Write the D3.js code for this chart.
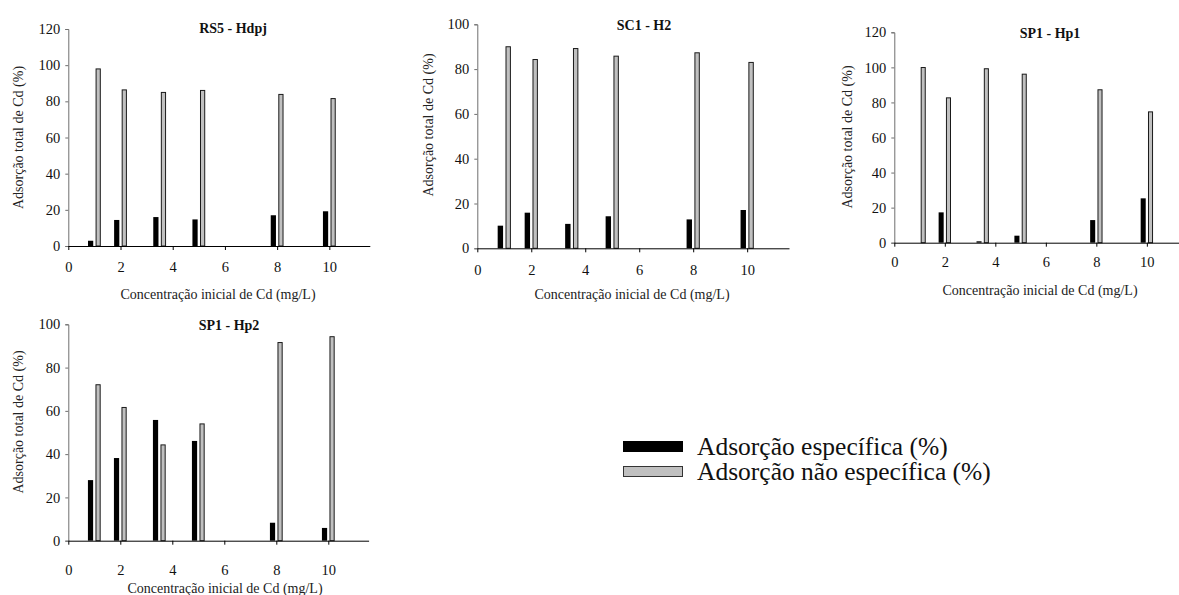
<!DOCTYPE html>
<html>
<head>
<meta charset="utf-8">
<script src="https://cdn.jsdelivr.net/npm/d3@7"></script>
<style>
  html, body { margin: 0; padding: 0; background: #fff; }
  svg { display: block; font-family: "Liberation Serif", "Times New Roman", serif; }
</style>
</head>
<body>
<svg id="chart" width="1179" height="595"></svg>
<script>
// Initial Cd concentrations (mg/L) shared by all soils
const concentrations = [1, 2, 3.5, 5, 8, 10];
const xTicks = [0, 2, 4, 6, 8, 10];

// Specific / non-specific Cd adsorption (%) per soil horizon
const rs5Specific    = [2.9, 14.4, 16.0, 14.7, 17.0, 19.2];
const rs5NonSpecific = [98.2, 86.6, 85.2, 86.3, 84.1, 81.8];

const sc1Specific    = [10.1, 15.9, 10.9, 14.3, 12.9, 17.1];
const sc1NonSpecific = [90.2, 84.5, 89.4, 86.0, 87.5, 83.2];

const hp1Specific    = [0, 17.3, 0.8, 4.0, 12.9, 25.3];
const hp1NonSpecific = [100.2, 82.9, 99.5, 96.4, 87.5, 74.9];

const hp2Specific    = [28.0, 38.2, 55.8, 46.1, 8.3, 5.9];
const hp2NonSpecific = [72.3, 61.8, 44.5, 54.2, 91.8, 94.5];

const titles = ["RS5 - Hdpj", "SC1 - H2", "SP1 - Hp1", "SP1 - Hp2"];
const legendLabels = ["Adsorção específica (%)", "Adsorção não específica (%)"];
const yTitle = "Adsorção total de Cd (%)";
const xTitle = "Concentração inicial de Cd (mg/L)";

const svg = d3.select("#chart");
const serif = "Liberation Serif, Times New Roman, serif";

// Panel layout: plot box, y maximum and label placement
const panels = [
  { title: titles[0], spec: rs5Specific, non: rs5NonSpecific, yMax: 120,
    left: 68.3, right: 369.8, top: 29, bottom: 246,
    titleX: 233, titleY: 28, yLabX: 18, yLabY: 137.5, xLabX: 218, xLabY: 294, tickLabY: 267 },
  { title: titles[1], spec: sc1Specific, non: sc1NonSpecific, yMax: 100,
    left: 477.3, right: 789, top: 24.3, bottom: 248.3,
    titleX: 644, titleY: 25, yLabX: 428, yLabY: 125, xLabX: 632, xLabY: 294, tickLabY: 270 },
  { title: titles[2], spec: hp1Specific, non: hp1NonSpecific, yMax: 120,
    left: 894.3, right: 1186, top: 32.3, bottom: 242.7,
    titleX: 1050, titleY: 33, yLabX: 847, yLabY: 137, xLabX: 1040, xLabY: 290, tickLabY: 262 },
  { title: titles[3], spec: hp2Specific, non: hp2NonSpecific, yMax: 100,
    left: 68.3, right: 368.6, top: 324.3, bottom: 540.7,
    titleX: 229, titleY: 325, yLabX: 18, yLabY: 422, xLabX: 225, xLabY: 588, tickLabY: 570 }
];

const halfGap = 0.045, barW = 0.2;

panels.forEach(p => {
  const x = d3.scaleLinear().domain([0, 11.55]).range([p.left, p.right]);
  const y = d3.scaleLinear().domain([0, p.yMax]).range([p.bottom, p.top]);
  const g = svg.append("g");

  // y axis
  const yAxis = d3.axisLeft(y).ticks(p.yMax / 20).tickSize(3).tickPadding(5);
  const ya = g.append("g").attr("transform", `translate(${p.left},0)`).call(yAxis)
    .attr("font-family", serif);
  ya.select(".domain").attr("stroke", "#6e6e6e");
  ya.selectAll(".tick line").attr("stroke", "#6e6e6e");
  ya.selectAll("text").attr("font-size", 14.5).attr("fill", "#111");

  // bars: specific (black) left of each concentration, non-specific (grey) right
  g.selectAll(".spec").data(concentrations).join("rect")
    .attr("x", d => x(d - halfGap - barW))
    .attr("width", d => x(d - halfGap) - x(d - halfGap - barW))
    .attr("y", (d, i) => y(p.spec[i]))
    .attr("height", (d, i) => y(0) - y(p.spec[i]))
    .attr("fill", "#000");

  g.selectAll(".non").data(concentrations).join("rect")
    .attr("x", d => x(d + halfGap) + 0.5)
    .attr("width", d => x(d + halfGap + barW) - x(d + halfGap) - 1)
    .attr("y", (d, i) => y(p.non[i]) + 0.5)
    .attr("height", (d, i) => y(0) - y(p.non[i]) - 0.5)
    .attr("fill", "#c0c0c0")
    .attr("stroke", "#1a1a1a")
    .attr("stroke-width", 1);

  // x axis
  const xAxis = d3.axisBottom(x).tickValues(xTicks).tickSize(4).tickSizeOuter(0).tickPadding(0);
  const xa = g.append("g").attr("transform", `translate(0,${p.bottom})`).call(xAxis)
    .attr("font-family", serif);
  xa.select(".domain").attr("stroke", "#000");
  xa.selectAll(".tick line").attr("stroke", "#000");
  xa.selectAll("text").attr("font-size", 14.5).attr("fill", "#111")
    .attr("y", p.tickLabY - p.bottom).attr("dy", "0.35em");

  // titles and axis labels
  g.append("text").attr("x", p.titleX).attr("y", p.titleY).attr("dy", "0.35em")
    .attr("text-anchor", "middle").attr("font-weight", "bold").attr("font-size", 14)
    .attr("fill", "#111").text(p.title);

  g.append("text").attr("transform", `translate(${p.yLabX},${p.yLabY}) rotate(-90)`)
    .attr("dy", "0.35em").attr("text-anchor", "middle").attr("font-size", 14)
    .attr("fill", "#222").text(yTitle);

  g.append("text").attr("x", p.xLabX).attr("y", p.xLabY).attr("dy", "0.35em")
    .attr("text-anchor", "middle").attr("font-size", 14)
    .attr("fill", "#222").text(xTitle);
});

// legend
const legend = svg.append("g");
const legendFills = ["#000", "#c0c0c0"];
const legendY = [446.5, 471.5];
legendLabels.forEach((lab, i) => {
  legend.append("rect").attr("x", 623.5).attr("y", legendY[i] - 5)
    .attr("width", 59).attr("height", 10)
    .attr("fill", legendFills[i]).attr("stroke", i ? "#333" : "#000").attr("stroke-width", 1);
  legend.append("text").attr("x", 697).attr("y", legendY[i]).attr("dy", "0.35em")
    .attr("font-size", 25.5).attr("fill", "#111").text(lab);
});
</script>
</body>
</html>
